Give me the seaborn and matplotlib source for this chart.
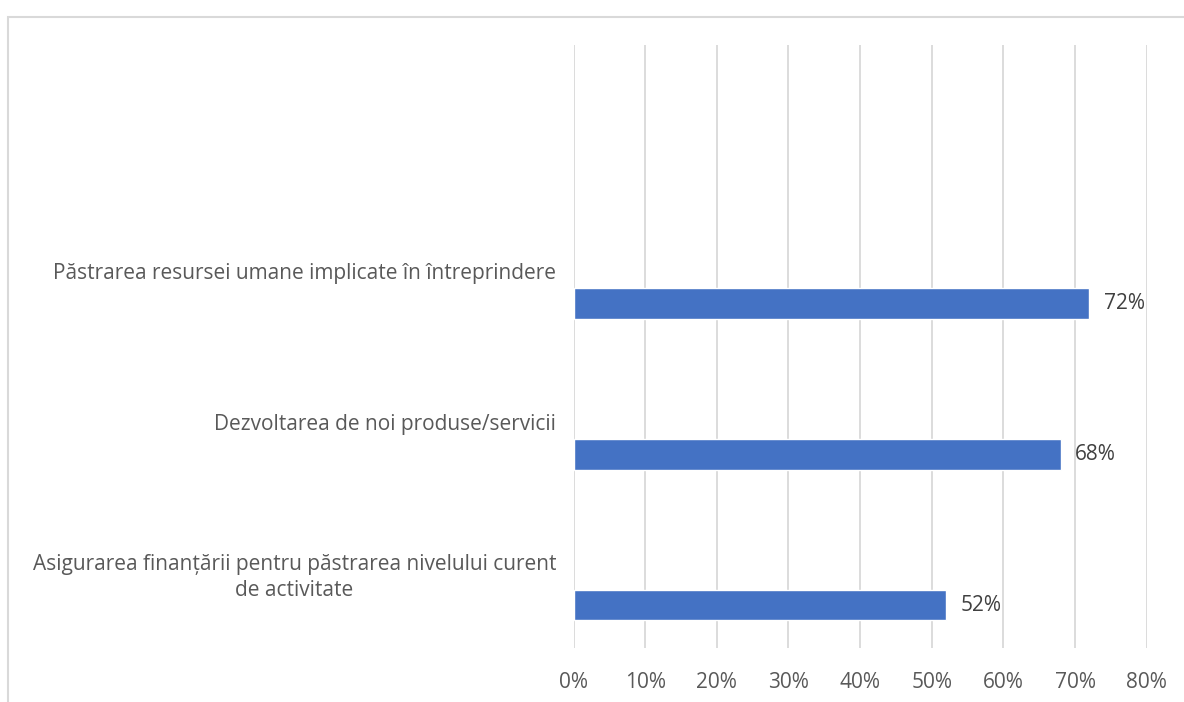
import matplotlib
matplotlib.use("Agg")
import matplotlib.pyplot as plt
import seaborn as sns
import pandas as pd
from matplotlib.patches import Rectangle
from matplotlib.ticker import PercentFormatter

categories = [
    "Păstrarea resursei umane implicate în întreprindere",
    "Dezvoltarea de noi produse/servicii",
    "Asigurarea finanțării pentru păstrarea nivelului curent\nde activitate",
]
values = [72, 68, 52]
x_ticks = [0, 10, 20, 30, 40, 50, 60, 70, 80]

sns.set_theme(style="white")
plt.rcParams["font.family"] = ["Open Sans", "DejaVu Sans"]

# category slots: slot 0 is empty (top), bars sit in the lower half of each slot
slots = [1, 2, 3]
bar_offset = 0.215
df = pd.DataFrame({"cat": categories, "val": values,
                   "pos": [s + bar_offset for s in slots]})

fig = plt.figure(figsize=(11.84, 7.02), dpi=100)
ax = fig.add_axes([573.5 / 1184, 1 - 648 / 702, (1146.7 - 573.5) / 1184, (648 - 45) / 702])

sns.barplot(data=df, x="val", y="pos", orient="h", native_scale=True,
            color="#4472C4", saturation=1, width=0.205, ax=ax, zorder=3)

ax.set_ylim(3.5, -0.5)
ax.set_xlim(0, 80)
ax.set_xticks(x_ticks)
ax.xaxis.set_major_formatter(PercentFormatter(decimals=0))
ax.set_yticks(slots)
ax.set_yticklabels(categories, multialignment="center", linespacing=1.3)
ax.tick_params(axis="y", length=0, pad=12.5, labelsize=15, labelcolor="#595959")
ax.tick_params(axis="x", length=0, pad=17, labelsize=15, labelcolor="#595959")
ax.set_xlabel("")
ax.set_ylabel("")
ax.grid(axis="x", color="#d9d9d9", linewidth=1.3, zorder=0)
ax.grid(axis="y", visible=False)
for s in ax.spines.values():
    s.set_visible(False)

for v, y in zip(values, df["pos"]):
    ax.text(v + 2.0, y, f"{v}%", va="center", ha="left", fontsize=15, color="#404040")

# chart frame (only left and top edges visible)
fig.patches.append(Rectangle((7.5 / 1184, -0.1), 1.2, 1 - 16.5 / 702 + 0.1,
                             transform=fig.transFigure, fill=False,
                             edgecolor="#d9d9d9", linewidth=1.5))

fig.savefig("out.png", dpi=100)
